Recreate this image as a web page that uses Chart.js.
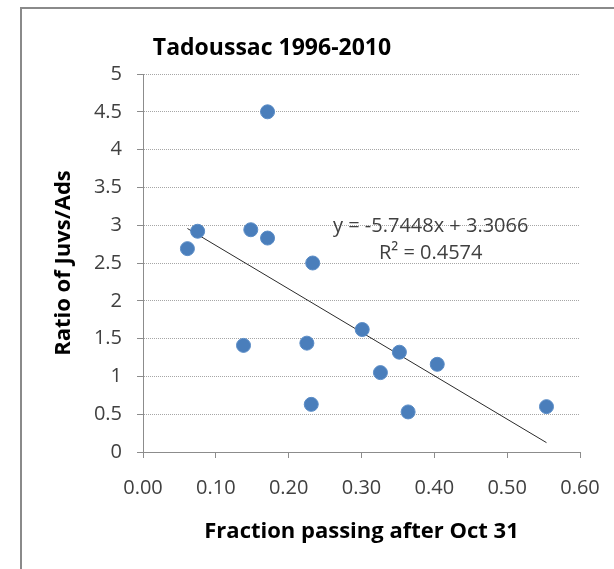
<!DOCTYPE html>
<html>
<head>
<meta charset="utf-8">
<title>Tadoussac 1996-2010</title>
<script src="https://cdn.jsdelivr.net/npm/chart.js@4.4.1/dist/chart.umd.min.js"></script>
<style>
    html, body { margin: 0; padding: 0; background: #fff; }
    #wrap { width: 614px; height: 569px; position: relative; }
</style>
</head>
<body>
<div id="wrap"><canvas id="chart"></canvas></div>
<script>
// Fraction of birds passing after Oct 31, one point per year
const fractionAfterOct31 = [0.061, 0.075, 0.138, 0.148, 0.171, 0.171, 0.225, 0.231, 0.233, 0.301, 0.326, 0.352, 0.364, 0.404, 0.554];
const ratioJuvsAds      = [2.69, 2.92, 1.41, 2.94, 4.50, 2.83, 1.44, 0.63, 2.50, 1.62, 1.05, 1.32, 0.53, 1.16, 0.60];

// Linear trendline as printed on the chart
const trendSlope = -5.7448;
const trendIntercept = 3.3066;
const trendLabels = ['y = -5.7448x + 3.3066', 'R² = 0.4574'];

const xTicks = [0, 0.1, 0.2, 0.3, 0.4, 0.5, 0.6];
const yTicks = [0, 0.5, 1, 1.5, 2, 2.5, 3, 3.5, 4, 4.5, 5];

const points = fractionAfterOct31.map((x, i) => ({ x: x, y: ratioJuvsAds[i] }));
const xMin = Math.min(...fractionAfterOct31);
const xMax = Math.max(...fractionAfterOct31);
const trendPoints = [xMin, xMax].map(x => ({ x: x, y: trendSlope * x + trendIntercept }));

const tickColor = '#404040';
const axisColor = '#8c8c8c';

// Frame, title and trendline equation
const decorations = {
    id: 'decorations',
    afterDraw(chart) {
        const ctx = chart.ctx;
        const xs = chart.scales.x, ys = chart.scales.y;
        ctx.save();
        // outer frame (only top and left edges are in view)
        ctx.strokeStyle = '#8a8a8a';
        ctx.lineWidth = 2;
        ctx.beginPath();
        ctx.moveTo(21, 569);
        ctx.lineTo(21, 8);
        ctx.lineTo(614, 8);
        ctx.stroke();

        // chart title
        ctx.fillStyle = '#000';
        ctx.font = 'bold 23px "Open Sans"';
        ctx.textAlign = 'center';
        ctx.textBaseline = 'middle';
        ctx.fillText('Tadoussac 1996-2010', 272, 48);

        // trendline equation
        ctx.fillStyle = tickColor;
        ctx.font = '20px "Open Sans"';
        const lx = xs.getPixelForValue(0.395);
        ctx.fillText(trendLabels[0], lx, ys.getPixelForValue(2.98));
        ctx.fillText(trendLabels[1], lx, ys.getPixelForValue(2.63));
        ctx.restore();
    }
};

new Chart(document.getElementById('chart'), {
    type: 'scatter',
    data: {
        datasets: [
            {
                label: 'Ratio of Juvs/Ads',
                data: points,
                backgroundColor: '#4a7ebb',
                borderColor: '#5a8cc6',
                borderWidth: 1,
                pointRadius: 7,
                pointHoverRadius: 7
            },
            {
                type: 'line',
                label: 'Linear trend',
                data: trendPoints,
                borderColor: '#2a2a2a',
                borderWidth: 1,
                pointRadius: 0,
                fill: false
            }
        ]
    },
    options: {
        responsive: true,
        maintainAspectRatio: false,
        animation: false,
        layout: { padding: { left: 51, top: 74, right: 34, bottom: 24 } },
        plugins: {
            legend: { display: false },
            title: { display: false },
            tooltip: { enabled: false }
        },
        scales: {
            x: {
                type: 'linear',
                min: 0,
                max: 0.6,
                afterBuildTicks: axis => { axis.ticks = xTicks.map(v => ({ value: v })); },
                afterFit: axis => {
                    axis.height = 93;
                    axis.paddingLeft = 0;
                    axis.paddingRight = 0;
                },
                ticks: {
                    color: tickColor,
                    font: { family: 'Open Sans', size: 20 },
                    padding: 18,
                    callback: v => v.toFixed(2)
                },
                grid: {
                    drawOnChartArea: false,
                    drawTicks: true,
                    tickLength: 6,
                    tickColor: axisColor
                },
                border: { color: axisColor, width: 1 },
                title: {
                    display: true,
                    text: 'Fraction passing after Oct 31',
                    color: '#000',
                    font: { family: 'Open Sans', size: 22, weight: 'bold' },
                    padding: 0
                }
            },
            y: {
                type: 'linear',
                min: 0,
                max: 5,
                afterBuildTicks: axis => { axis.ticks = yTicks.map(v => ({ value: v })); },
                afterFit: axis => {
                    axis.width = 92;
                    axis.paddingTop = 0;
                    axis.paddingBottom = 0;
                },
                ticks: {
                    color: tickColor,
                    font: { family: 'Open Sans', size: 20 },
                    padding: 15,
                    callback: v => String(v)
                },
                grid: {
                    color: '#a6a6a6',
                    tickLength: 6,
                    tickColor: axisColor
                },
                border: { color: axisColor, width: 1, dash: [1, 1] },
                title: {
                    display: true,
                    text: 'Ratio of Juvs/Ads',
                    color: '#000',
                    font: { family: 'Open Sans', size: 22, weight: 'bold' },
                    padding: 0
                }
            }
        }
    },
    plugins: [decorations]
});
</script>
</body>
</html>
